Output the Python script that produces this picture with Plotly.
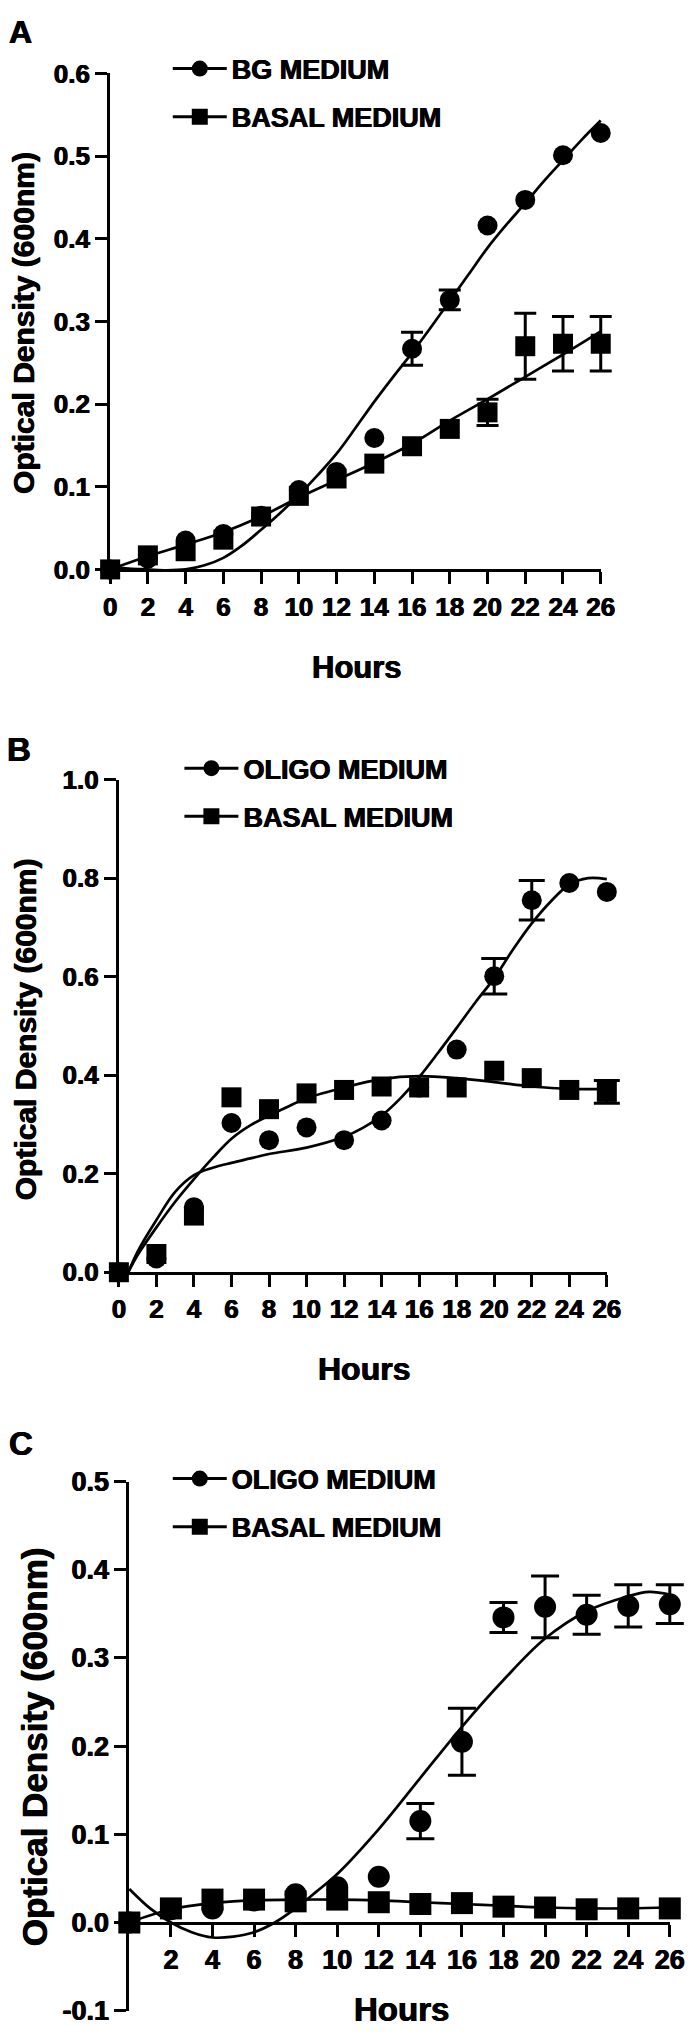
import plotly.graph_objects as go

W, H = 700, 2039
FONT = "Liberation Sans, Arial, Helvetica, sans-serif"
SHADOW = "0.5px 0 0 #000, -0.5px 0 0 #000"

def fx(px):
    return px / W

def fy(py):
    return 1 - py / H

hours = [0, 2, 4, 6, 8, 10, 12, 14, 16, 18, 20, 22, 24, 26]

# ---------------- Panel A ----------------
a_bg = [0.0, 0.013, 0.035, 0.043, 0.065, 0.096, 0.118, 0.159, 0.267, 0.326, 0.416, 0.447, 0.501, 0.528]
a_bg_err = [None, None, None, None, None, None, None, None, 0.020, 0.012, None, None, None, None]
a_basal = [0.0, 0.017, 0.022, 0.036, 0.064, 0.089, 0.110, 0.128, 0.149, 0.170, 0.190, 0.270, 0.273, 0.273]
a_basal_err = [None, None, None, None, None, None, None, None, None, None, 0.016, 0.040, 0.033, 0.033]
a_bg_fit_hours = list(range(0, 27))
a_bg_fit = [0.003, 0.001, 0.0, -0.001, 0.0, 0.005, 0.014, 0.029, 0.048, 0.068, 0.090, 0.114, 0.140,
            0.171, 0.203, 0.233, 0.262, 0.293, 0.325, 0.357, 0.389, 0.417, 0.443, 0.470, 0.495, 0.520, 0.543]
a_basal_fit = [0.0, 0.016, 0.030, 0.045, 0.064, 0.087, 0.108, 0.129, 0.152, 0.180, 0.206, 0.233, 0.260, 0.288]

# ---------------- Panel B ----------------
b_oligo = [0.0, 0.028, 0.132, 0.303, 0.268, 0.294, 0.268, 0.308, 0.375, 0.452, 0.601, 0.755, 0.790, 0.772]
b_oligo_err = [None, None, None, None, None, None, None, None, None, None, 0.036, 0.040, None, None]
b_basal = [0.0, 0.037, 0.115, 0.355, 0.331, 0.363, 0.370, 0.377, 0.375, 0.375, 0.409, 0.394, 0.370, 0.366]
b_basal_err = [None, None, None, None, None, None, None, None, None, None, None, None, None, 0.023]
b_oligo_fit_hours = [0.5, 1, 2, 3, 4, 5, 6, 7, 8, 10, 12, 13, 14, 15, 16, 17, 18, 19, 20, 21, 22, 23, 24, 25, 26]
b_oligo_fit = [0.0, 0.042, 0.106, 0.163, 0.197, 0.212, 0.222, 0.231, 0.240, 0.253, 0.275, 0.293, 0.318,
               0.353, 0.396, 0.445, 0.496, 0.548, 0.597, 0.655, 0.708, 0.752, 0.787, 0.800, 0.798]
b_basal_fit_hours = [0.5, 1, 2, 3, 4, 5, 6, 7, 8, 9, 10, 12, 14, 16, 18, 20, 22, 24, 26]
b_basal_fit = [0.0, 0.035, 0.091, 0.143, 0.189, 0.232, 0.271, 0.298, 0.318, 0.336, 0.353, 0.375, 0.392,
               0.398, 0.394, 0.386, 0.377, 0.372, 0.372]

# ---------------- Panel C ----------------
c_oligo = [0.0, 0.015, 0.016, 0.025, 0.032, 0.040, 0.052, 0.115, 0.205, 0.346, 0.358, 0.349, 0.359, 0.361]
c_oligo_err = [None, None, None, None, None, None, None, 0.020, 0.038, 0.017, 0.035, 0.022, 0.024, 0.022]
c_basal = [0.0, 0.016, 0.026, 0.026, 0.024, 0.026, 0.023, 0.021, 0.022, 0.018, 0.017, 0.015, 0.016, 0.016]
c_basal_err = [None] * 14
c_oligo_fit_hours = [0, 1, 2, 3, 4, 5, 6, 7, 8, 9, 10, 12, 14, 16, 18, 20, 22, 24, 25, 26]
c_oligo_fit = [0.038, 0.016, 0.0, -0.011, -0.017, -0.016, -0.011, 0.0, 0.016, 0.035, 0.055, 0.106,
               0.164, 0.222, 0.275, 0.322, 0.353, 0.370, 0.375, 0.372]
c_basal_fit = [0.0, 0.015, 0.022, 0.025, 0.026, 0.026, 0.025, 0.023, 0.021, 0.019, 0.017, 0.016, 0.016, 0.017]

fig = go.Figure()

def add_panel(xa, ya, dxa, dya, leg, circ_name, circ_y, circ_err, sq_y, sq_err,
              circ_fit_x, circ_fit_y, sq_fit_x, sq_fit_y, msize, capw):
    # data drawn on hidden, pixel-identical axes with a wider clip area
    for fxs, fys in [(circ_fit_x, circ_fit_y), (sq_fit_x, sq_fit_y)]:
        fig.add_trace(go.Scatter(x=fxs, y=fys, mode="lines", line=dict(color="black", width=2.7, shape="spline"),
                                 xaxis=dxa, yaxis=dya, showlegend=False, cliponaxis=False, hoverinfo="skip"))
    for ys, errs in [(circ_y, circ_err), (sq_y, sq_err)]:
        idx = [i for i, e in enumerate(errs) if e is not None]
        if idx:
            fig.add_trace(go.Scatter(
                x=[hours[i] for i in idx], y=[ys[i] for i in idx], mode="markers",
                marker=dict(size=1, color="rgba(0,0,0,0)"),
                error_y=dict(type="data", array=[errs[i] for i in idx], visible=True,
                             color="black", thickness=3, width=capw),
                xaxis=dxa, yaxis=dya, showlegend=False, cliponaxis=False, hoverinfo="skip"))
    for ys, sym in [(circ_y, "circle"), (sq_y, "square")]:
        fig.add_trace(go.Scatter(
            x=hours, y=ys, mode="markers",
            marker=dict(symbol=sym, size=msize, color="black", line=dict(width=0)),
            xaxis=dxa, yaxis=dya, showlegend=False, cliponaxis=False))
    for name, sym, g in [(circ_name, "circle", leg + "c"), ("BASAL MEDIUM", "square", leg + "s")]:
        fig.add_trace(go.Scatter(
            x=[None], y=[None], mode="lines+markers", name=name,
            marker=dict(symbol=sym, size=msize, color="black"),
            line=dict(color="black", width=3),
            xaxis=xa, yaxis=ya, legend=leg, legendgroup=g, showlegend=True))

add_panel("x", "y", "x4", "y4", "legend", "BG MEDIUM", a_bg, a_bg_err, a_basal, a_basal_err,
          a_bg_fit_hours, a_bg_fit, hours, a_basal_fit, 20, 11)
add_panel("x2", "y2", "x5", "y5", "legend2", "OLIGO MEDIUM", b_oligo, b_oligo_err, b_basal, b_basal_err,
          b_oligo_fit_hours, b_oligo_fit, b_basal_fit_hours, b_basal_fit, 20, 13)
add_panel("x3", "y3", "x6", "y6", "legend3", "OLIGO MEDIUM", c_oligo, c_oligo_err, c_basal, c_basal_err,
          c_oligo_fit_hours, c_oligo_fit, hours, c_basal_fit, 22, 14)

def axis_common(size):
    return dict(showline=True, linewidth=3, linecolor="black", ticks="outside", ticklen=12, tickwidth=3,
                tickcolor="black", showgrid=False, zeroline=False, mirror=False,
                tickfont=dict(family=FONT, size=size, color="black", weight="bold", shadow=SHADOW))

even = list(range(0, 27, 2))

# pixel geometry of each panel: (x0px, x1px, xrange, ybottom px, ytop px, yrange)
panels = [
    (106.5, 613.0, (0, 26), 562.7, 59.3, (0, 0.6)),
    (115.5, 619.3, (0, 26), 1276.0, 776.0, (0, 1.0)),
    (126.3, 684.3, (0, 26), 2025.5, 1488.5, (-0.1, 0.5)),
]

layout_axes = {}
E = 30  # extra pixels of drawing room around each panel
for i, (x0, x1, xr, yb, yt, yr) in enumerate(panels):
    sx = (xr[1] - xr[0]) / (x1 - x0)
    sy = (yr[1] - yr[0]) / (yb - yt)
    el, er = min(E, x0), min(E, W - x1)
    eb, et = min(E, H - yb), min(E, yt)
    k = i + 4
    layout_axes["xaxis%d" % k] = dict(domain=[fx(x0 - el), fx(x1 + er)],
                                      range=[xr[0] - el * sx, xr[1] + er * sx],
                                      visible=False, anchor="y%d" % k, fixedrange=True)
    layout_axes["yaxis%d" % k] = dict(domain=[fy(yb + eb), fy(yt - et)],
                                      range=[yr[0] - eb * sy, yr[1] + et * sy],
                                      visible=False, anchor="x%d" % k, fixedrange=True)

fig.update_layout(
    width=W, height=H, margin=dict(l=0, r=0, t=0, b=0),
    paper_bgcolor="white", plot_bgcolor="rgba(0,0,0,0)",
    font=dict(family=FONT, color="black"),
    xaxis=dict(domain=[fx(106.5), fx(613)], range=[0, 26], tickvals=even, anchor="y", **axis_common(26)),
    yaxis=dict(domain=[fy(562.7), fy(59.3)], range=[0, 0.6], dtick=0.1, tick0=0, tickformat=".1f",
               anchor="x", **axis_common(26)),
    xaxis2=dict(domain=[fx(115.5), fx(619.3)], range=[0, 26], tickvals=even, anchor="y2", **axis_common(26)),
    yaxis2=dict(domain=[fy(1276), fy(776)], range=[0, 1.0], dtick=0.2, tick0=0, tickformat=".1f",
                anchor="x2", **axis_common(26)),
    xaxis3=dict(domain=[fx(126.3), fx(684.3)], range=[0, 26], tickvals=even[1:], anchor="free",
                position=fy(1936), **axis_common(27)),
    yaxis3=dict(domain=[fy(2025.5), fy(1488.5)], range=[-0.1, 0.5],
                tickvals=[-0.1, 0.0, 0.1, 0.2, 0.3, 0.4, 0.5],
                ticktext=["-0.1", "0.0", "0.1", "0.2", "0.3", "0.4", "0.5"],
                anchor="x3", **axis_common(27)),
    **layout_axes,
)

legend_common = dict(xanchor="left", yanchor="top", bgcolor="rgba(0,0,0,0)", borderwidth=0,
                     itemwidth=54, tracegroupgap=10, itemsizing="trace",
                     font=dict(family=FONT, size=27, color="black", weight="bold", shadow=SHADOW))
fig.update_layout(
    legend=dict(x=fx(166), y=fy(30), **legend_common),
    legend2=dict(x=fx(178), y=fy(740), **legend_common),
    legend3=dict(x=fx(166), y=fy(1461), **legend_common),
)

def ann(text, x, y, size, angle=0):
    fig.add_annotation(text=text, x=fx(x), y=fy(y), xref="paper", yref="paper", showarrow=False,
                       xanchor="center", yanchor="middle", textangle=angle,
                       font=dict(family=FONT, size=size, color="black", weight="bold", shadow=SHADOW))

ann("A", 14, 17, 32)
ann("B", 12, 745, 33)
ann("C", 14, 1450, 33)
ann("Hours", 361, 662, 31)
ann("Hours", 369, 1374, 32)
ann("Hours", 407, 2024, 33)
ann("Optical Density (600nm)", 17, 312, 30, -90)
ann("Optical Density (600nm)", 19, 1029, 30, -90)
ann("Optical Density (600nm)", 28, 1758, 35, -90)

fig.write_html("out.html", config={"displayModeBar": False},
               post_script="document.body.style.margin='0';document.body.style.overflow='hidden';")
